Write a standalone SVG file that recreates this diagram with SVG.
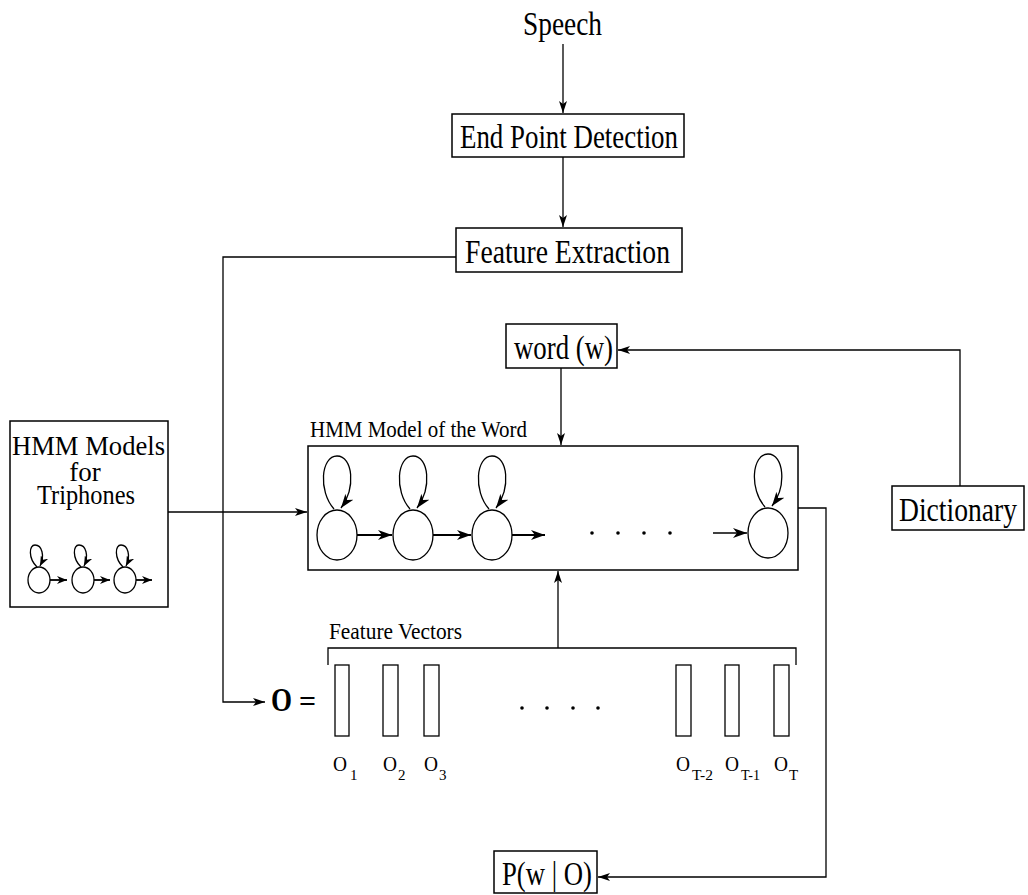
<svg xmlns="http://www.w3.org/2000/svg" width="1028" height="895" viewBox="0 0 1028 895">
<defs>
<style>
text{font-family:"Liberation Serif","Times New Roman",serif;fill:#000}
.box{fill:#fff;stroke:#000;stroke-width:1.5}
.ln{fill:none;stroke:#000;stroke-width:1.3}
.st{fill:none;stroke:#000;stroke-width:1.8}
.big{font-size:33px}
.mid{font-size:28px}
.sm{font-size:23px}
.lab{font-size:22px}
.sub{font-size:15px}
</style>
<marker id="a" viewBox="0 0 12 8" refX="12" refY="4" markerWidth="12" markerHeight="8" markerUnits="userSpaceOnUse" orient="auto">
<path d="M0,0 L12,4 L0,8 L3,4 Z" fill="#000"/>
</marker>
<marker id="b" viewBox="0 0 14 10" refX="14" refY="5" markerWidth="14" markerHeight="10" markerUnits="userSpaceOnUse" orient="auto">
<path d="M0,0 L14,5 L0,10 L4,5 Z" fill="#000"/>
</marker>
<marker id="c" viewBox="0 0 10 8" refX="10" refY="4" markerWidth="10" markerHeight="8" markerUnits="userSpaceOnUse" orient="auto">
<path d="M0,0 L10,4 L0,8 L3,4 Z" fill="#000"/>
</marker>
</defs>

<g id="connectors">
<line class="ln" x1="563" y1="44" x2="563" y2="113" marker-end="url(#a)"/>
<line class="ln" x1="563" y1="157" x2="563" y2="227" marker-end="url(#a)"/>
<polyline class="ln" points="456,257 223,257 223,702 265,702" marker-end="url(#a)"/>
<line class="ln" x1="561" y1="368" x2="561" y2="445" marker-end="url(#a)"/>
<polyline class="ln" points="960,486 960,350 618,350" marker-end="url(#a)"/>
<line class="ln" x1="168" y1="512" x2="307" y2="512" marker-end="url(#a)"/>
<line class="ln" x1="558" y1="648" x2="558" y2="571" marker-end="url(#a)"/>
<polyline class="ln" points="798,508 826,508 826,877 598,877" marker-end="url(#a)"/>
</g>

<g id="speech"><text class="big" x="523" y="35" textLength="79" lengthAdjust="spacingAndGlyphs">Speech</text></g>

<g id="endpoint">
<rect class="box" x="452" y="114" width="232" height="43"/>
<text class="big" x="460" y="148" textLength="218" lengthAdjust="spacingAndGlyphs">End Point Detection</text>
</g>

<g id="feature-extraction">
<rect class="box" x="456" y="228" width="226" height="44"/>
<text class="big" x="465" y="263" textLength="205" lengthAdjust="spacingAndGlyphs">Feature Extraction</text>
</g>

<g id="word">
<rect class="box" x="506" y="324" width="111" height="44"/>
<text class="big" x="514" y="359" textLength="99" lengthAdjust="spacingAndGlyphs">word (w)</text>
</g>

<g id="dictionary">
<rect class="box" x="892" y="486" width="132" height="44"/>
<text class="big" x="899" y="521" textLength="118" lengthAdjust="spacingAndGlyphs">Dictionary</text>
</g>

<g id="prob">
<rect class="box" x="494" y="851" width="103" height="42"/>
<text class="big" x="502" y="885" textLength="90" lengthAdjust="spacingAndGlyphs">P(w | O)</text>
</g>

<g id="triphones">
<rect class="box" x="10" y="421" width="158" height="186"/>
<text class="mid" x="12" y="455" textLength="153" lengthAdjust="spacingAndGlyphs">HMM Models</text>
<text x="85" y="481" font-size="27" text-anchor="middle">for</text>
<text class="mid" x="37" y="504" textLength="98" lengthAdjust="spacingAndGlyphs">Triphones</text>
<ellipse class="ln" cx="39" cy="580" rx="11" ry="13"/>
<ellipse class="ln" cx="83" cy="580" rx="11" ry="13"/>
<ellipse class="ln" cx="125" cy="580" rx="11" ry="13"/>
<path class="ln" d="M37,567 C28,558 29,545 35,545 C42,545 45,556 40,566" marker-end="url(#c)"/>
<path class="ln" d="M81,567 C72,558 73,545 79,545 C86,545 89,556 84,566" marker-end="url(#c)"/>
<path class="ln" d="M123,567 C114,558 115,545 121,545 C128,545 131,556 126,566" marker-end="url(#c)"/>
<line class="st" x1="50" y1="580" x2="67" y2="580" marker-end="url(#c)"/>
<line class="st" x1="94" y1="580" x2="110" y2="580" marker-end="url(#c)"/>
<line class="st" x1="136" y1="580" x2="152" y2="580" marker-end="url(#c)"/>
</g>

<g id="hmm-word">
<text class="sm" x="310" y="437" textLength="217" lengthAdjust="spacingAndGlyphs">HMM Model of the Word</text>
<rect class="box" x="308" y="446" width="490" height="124"/>
<ellipse class="ln" cx="337" cy="535" rx="20" ry="25"/>
<ellipse class="ln" cx="413" cy="535" rx="20" ry="25"/>
<ellipse class="ln" cx="492" cy="535" rx="20" ry="25"/>
<ellipse class="ln" cx="768" cy="533" rx="20" ry="25"/>
<path class="ln" d="M334,509 C318,491 321,456 337,456 C353,456 356,488 341,508" marker-end="url(#b)"/>
<path class="ln" d="M410,509 C394,491 397,456 413,456 C429,456 432,488 417,508" marker-end="url(#b)"/>
<path class="ln" d="M489,509 C473,491 476,456 492,456 C508,456 511,488 496,508" marker-end="url(#b)"/>
<path class="ln" d="M765,507 C749,489 752,454 768,454 C784,454 787,486 772,506" marker-end="url(#b)"/>
<line class="st" x1="357" y1="535" x2="392" y2="535" marker-end="url(#b)"/>
<line class="st" x1="433" y1="535" x2="471" y2="535" marker-end="url(#b)"/>
<line class="st" x1="512" y1="535" x2="545" y2="535" marker-end="url(#b)"/>
<line class="ln" x1="713" y1="533" x2="747" y2="533" marker-end="url(#b)"/>
<circle cx="592" cy="533" r="1.8"/>
<circle cx="618" cy="533" r="1.8"/>
<circle cx="644" cy="533" r="1.8"/>
<circle cx="670" cy="533" r="1.8"/>
</g>

<g id="feature-vectors">
<text class="sm" x="329" y="639" textLength="133" lengthAdjust="spacingAndGlyphs">Feature Vectors</text>
<polyline class="ln" points="328,665 328,648 796,648 796,665"/>
<text x="271" y="711" font-size="33" font-weight="bold" textLength="21" lengthAdjust="spacingAndGlyphs">O</text>
<text x="299" y="711" font-size="30" font-weight="bold">=</text>
<rect class="ln" x="335" y="665" width="14" height="71"/>
<rect class="ln" x="383" y="665" width="15" height="71"/>
<rect class="ln" x="424" y="665" width="15" height="71"/>
<rect class="ln" x="676" y="665" width="15" height="71"/>
<rect class="ln" x="725" y="665" width="14" height="71"/>
<rect class="ln" x="774" y="665" width="15" height="71"/>
<circle cx="522" cy="708" r="1.8"/>
<circle cx="547" cy="708" r="1.8"/>
<circle cx="573" cy="708" r="1.8"/>
<circle cx="598" cy="708" r="1.8"/>
<text class="lab" x="333" y="771" textLength="14" lengthAdjust="spacingAndGlyphs">O</text><text class="sub" x="350" y="780">1</text>
<text class="lab" x="383" y="771" textLength="14" lengthAdjust="spacingAndGlyphs">O</text><text class="sub" x="398" y="780">2</text>
<text class="lab" x="424" y="771" textLength="14" lengthAdjust="spacingAndGlyphs">O</text><text class="sub" x="439" y="780">3</text>
<text class="lab" x="676" y="771" textLength="14" lengthAdjust="spacingAndGlyphs">O</text><text class="sub" x="692" y="780" textLength="21" lengthAdjust="spacingAndGlyphs">T-2</text>
<text class="lab" x="725" y="771" textLength="14" lengthAdjust="spacingAndGlyphs">O</text><text class="sub" x="741" y="780" textLength="19" lengthAdjust="spacingAndGlyphs">T-1</text>
<text class="lab" x="774" y="771" textLength="14" lengthAdjust="spacingAndGlyphs">O</text><text class="sub" x="789" y="780">T</text>
</g>
</svg>
